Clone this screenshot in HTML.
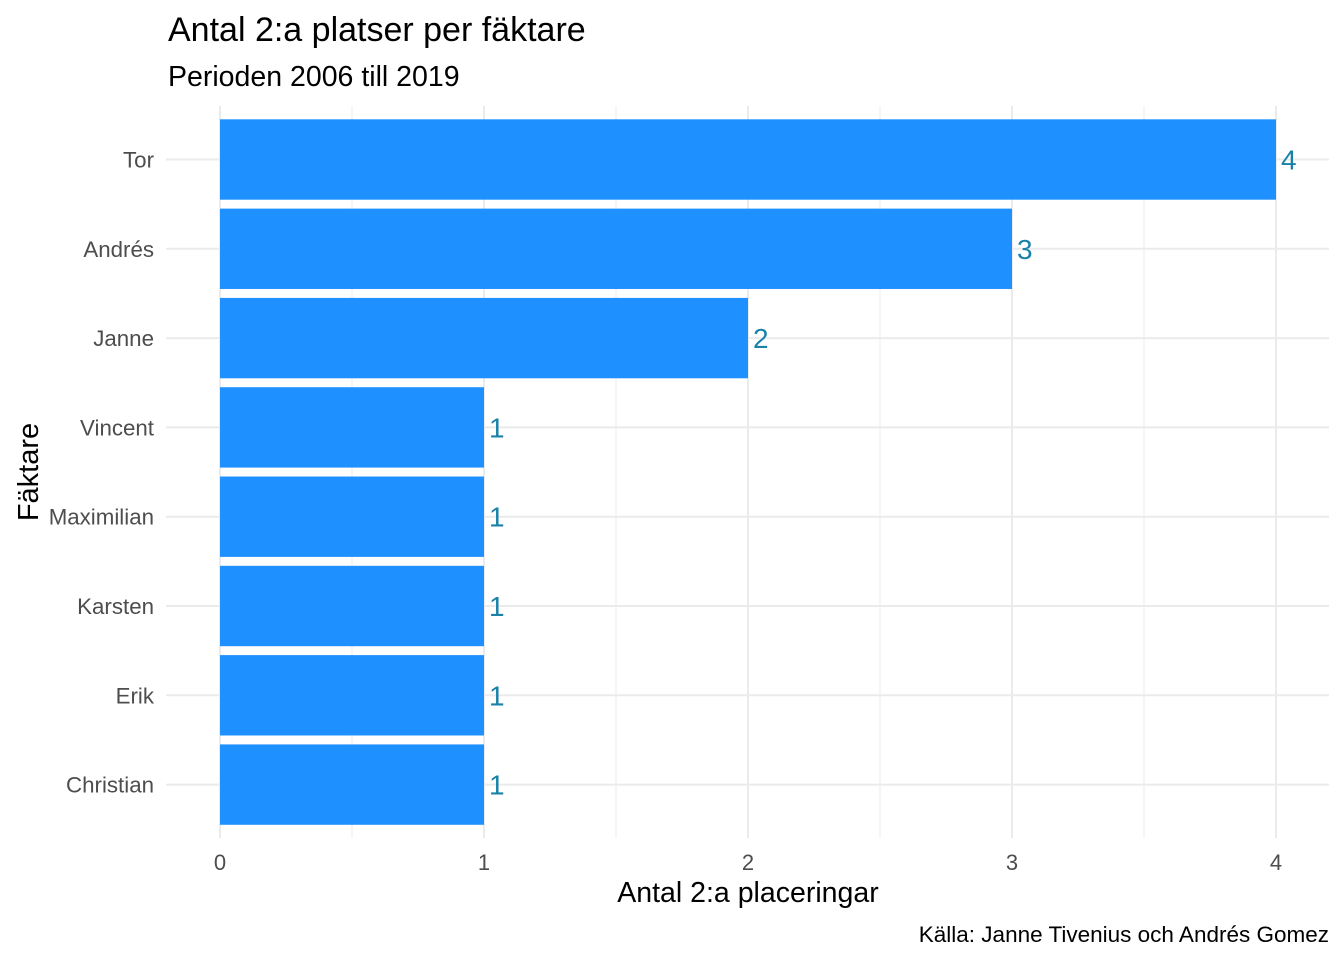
<!DOCTYPE html>
<html><head><meta charset="utf-8"><style>
body{margin:0;background:#fff;font-family:"Liberation Sans",sans-serif;}
</style></head><body>
<svg width="1344" height="960" xmlns="http://www.w3.org/2000/svg" font-family="Liberation Sans, sans-serif">
<text x="168" y="41" font-size="34" fill="#000">Antal 2:a platser per fäktare</text>
<text x="168" y="86" font-size="28.5" fill="#000">Perioden 2006 till 2019</text>
<g id="grid"></g>
<g id="bars"></g>
<g id="ylabels"></g>
<g id="xlabels"></g>
<text x="748" y="902" font-size="28.5" text-anchor="middle" fill="#000">Antal 2:a placeringar</text>
<text transform="translate(38,472) rotate(-90)" font-size="29" text-anchor="middle" fill="#000">Fäktare</text>
<text x="1329" y="942" font-size="22.5" text-anchor="end" fill="#000">Källa: Janne Tivenius och Andrés Gomez</text>
</svg>
<script>
const categories=["Tor","Andrés","Janne","Vincent","Maximilian","Karsten","Erik","Christian"];
const values=[4,3,2,1,1,1,1,1];
const xTicks=[0,1,2,3,4];
const NS="http://www.w3.org/2000/svg";
const x0=220,xs=264,panelL=166,panelR=1329,top0=159.5,step=89.3;
const X=v=>x0+v*xs;
const Y=i=>top0+i*step;
const pT=Y(0)-0.6*step,pB=Y(categories.length-1)+0.6*step;
function mk(t,a,p){const e=document.createElementNS(NS,t);for(const k in a)e.setAttribute(k,a[k]);p.appendChild(e);return e;}
const grid=document.getElementById('grid');
for(let v=0.5;v<4.5;v+=1){const l=mk('line',{x1:X(v),x2:X(v),y1:pT,y2:pB,stroke:'#ebebeb','stroke-width':1},grid);

}
xTicks.forEach(v=>{const l=mk('line',{x1:X(v),x2:X(v),y1:pT,y2:pB,stroke:'#ebebeb','stroke-width':2},grid);


const t=mk('text',{x:X(v),y:870,'font-size':22,'text-anchor':'middle',fill:'#4d4d4d'},document.getElementById('xlabels'));t.textContent=v;

});
categories.forEach((c,i)=>{const l=mk('line',{x1:panelL,x2:panelR,y1:Y(i),y2:Y(i),stroke:'#ebebeb','stroke-width':2},grid);


const t=mk('text',{x:154,y:Y(i)+8,'font-size':22.3,'text-anchor':'end',fill:'#4d4d4d'},document.getElementById('ylabels'));t.textContent=c;


const bh=step*0.9;
const r=mk('rect',{x:X(0),y:Y(i)-bh/2,width:X(values[i])-X(0),height:bh,fill:'#1e90ff'},document.getElementById('bars'));


const vt=mk('text',{x:X(values[i])+5,y:Y(i)+10,'font-size':28,fill:'#1a82a8'},document.getElementById('bars'));vt.textContent=values[i];

});
</script>
</body></html>
